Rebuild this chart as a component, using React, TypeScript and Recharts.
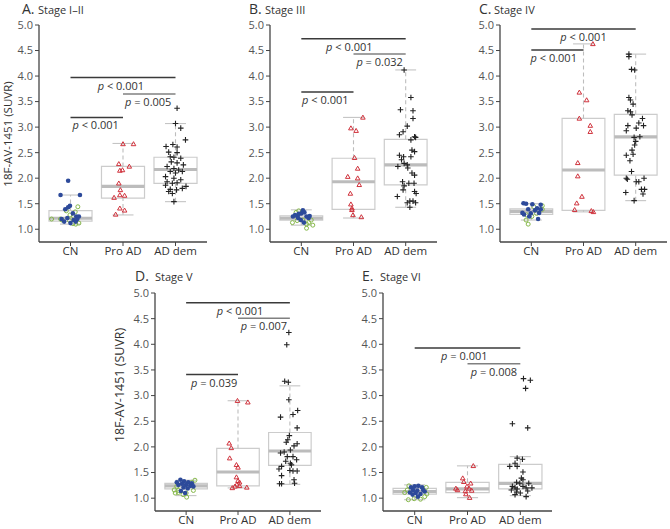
import React from 'react';
import { ComposedChart, XAxis, YAxis, Scatter, ReferenceArea, ReferenceLine } from 'recharts';

const categories = ['CN', 'Pro AD', 'AD dem'];
const yTicks = [1.0, 1.5, 2.0, 2.5, 3.0, 3.5, 4.0, 4.5, 5.0];
const yLabel = '18F-AV-1451 (SUVR)';

// box stats per category: [whiskerLow, q1, median, q3, whiskerHigh]
const A_boxes = [[1.10, 1.16, 1.215, 1.365, 1.67], [1.28, 1.61, 1.84, 2.23, 2.68], [1.54, 1.90, 2.17, 2.41, 3.07]];
const B_boxes = [[1.08, 1.18, 1.215, 1.26, 1.38], [1.22, 1.39, 1.93, 2.39, 3.19], [1.43, 1.87, 2.26, 2.76, 4.12]];
const C_boxes = [[1.18, 1.29, 1.35, 1.40, 1.50], [1.34, 1.37, 2.16, 3.17, 4.63], [1.56, 2.06, 2.81, 3.25, 4.43]];
const D_boxes = [[1.05, 1.18, 1.24, 1.29, 1.35], [1.20, 1.24, 1.51, 1.97, 2.90], [1.27, 1.64, 1.92, 2.28, 3.19]];
const E_boxes = [[0.97, 1.08, 1.13, 1.19, 1.26], [1.01, 1.11, 1.18, 1.31, 1.63], [1.05, 1.18, 1.29, 1.66, 1.81]];

const A_cnFilled = [[0.955,1.95],[0.81,1.67],[1.18,1.67],[0.99,1.46],[0.955,1.43],[0.9,1.39],[1.045,1.31],[1.11,1.25],[1.16,1.25],[0.94,1.22],[1.06,1.18],[0.88,1.15],[1.1,1.15],[1.0,1.12],[0.83,1.2],[1.13,1.2]];
const A_cnHollow = [[1.14,1.44],[0.92,1.36],[1.09,1.34],[0.99,1.28],[1.06,1.25],[0.81,1.2],[0.64,1.2],[0.84,1.18],[0.98,1.17],[1.045,1.11],[1.16,1.12],[1.1,1.1]];
const A_pro = [[2.0,2.67],[2.2,2.67],[1.92,2.28],[2.12,2.23],[1.94,2.15],[1.99,2.16],[1.92,1.9],[1.95,1.77],[1.94,1.67],[2.03,1.66],[1.83,1.62],[1.94,1.41],[2.03,1.37],[1.86,1.29]];
const A_dem = [[3.03,3.37],[3.0,3.07],[3.1,2.98],[3.19,2.75],[2.82,2.62],[2.95,2.66],[3.03,2.61],[2.87,2.51],[3.03,2.5],[2.9,2.42],[2.97,2.41],[3.1,2.39],[2.92,2.32],[3.03,2.3],[3.15,2.26],[2.84,2.23],[2.97,2.19],[3.06,2.16],[2.9,2.13],[3.0,2.1],[3.13,2.13],[2.81,2.03],[2.97,2.0],[3.1,1.97],[2.84,1.93],[2.94,1.9],[3.03,1.91],[3.2,1.84],[2.81,1.86],[2.9,1.78],[3.02,1.77],[3.13,1.8],[2.94,1.7],[2.97,1.54],[2.87,1.74]];

const B_cnFilled = [[0.84,1.25],[0.92,1.26],[1.0,1.31],[1.06,1.33],[1.03,1.37],[0.94,1.22],[1.1,1.25],[1.14,1.22],[0.99,1.18],[1.05,1.13],[0.88,1.28],[0.95,1.3],[1.16,1.26]];
const B_cnHollow = [[0.9,1.33],[0.95,1.36],[1.19,1.18],[1.14,1.13],[1.1,1.1],[1.22,1.08],[0.92,1.17],[0.83,1.13],[1.1,1.02],[1.03,1.18]];
const B_pro = [[2.18,3.19],[1.95,2.98],[2.05,2.93],[2.02,2.4],[2.08,2.19],[1.89,2.03],[2.08,2.0],[2.11,1.87],[1.94,1.7],[1.95,1.49],[1.97,1.41],[1.97,1.38],[1.99,1.28],[2.15,1.24]];
const B_dem = [[2.97,4.12],[3.1,3.58],[2.9,3.34],[3.14,3.32],[3.14,3.17],[3.03,3.02],[2.95,2.91],[2.88,2.85],[3.17,2.81],[3.1,2.75],[3.19,2.8],[3.12,2.55],[3.17,2.52],[2.88,2.45],[2.96,2.42],[3.1,2.42],[2.92,2.36],[2.97,2.29],[3.03,2.26],[2.85,2.23],[3.12,2.1],[3.17,2.06],[3.04,2.2],[2.94,1.93],[3.06,1.9],[2.97,1.85],[3.16,1.9],[2.95,1.77],[3.17,1.74],[3.2,1.7],[2.84,1.64],[3.08,1.55],[3.14,1.55],[3.19,1.52],[3.08,1.43],[3.03,1.52]];

const C_cnFilled = [[0.85,1.51],[0.9,1.5],[1.02,1.49],[1.11,1.41],[1.18,1.48],[0.94,1.39],[1.07,1.37],[0.86,1.29],[0.83,1.32],[0.96,1.25],[1.13,1.2],[1.15,1.32],[1.18,1.39],[0.99,1.31]];
const C_cnHollow = [[1.21,1.46],[1.05,1.44],[0.91,1.28],[1.01,1.25],[0.9,1.18],[0.94,1.1],[1.21,1.39],[1.1,1.31]];
const C_pro = [[2.18,4.63],[1.92,3.68],[2.06,3.53],[1.92,3.17],[2.13,3.03],[2.13,2.91],[1.89,2.3],[1.89,2.04],[1.97,1.64],[1.87,1.51],[1.83,1.38],[2.15,1.36],[2.19,1.34]];
const C_dem = [[2.87,4.43],[2.87,4.38],[2.92,4.13],[2.98,4.12],[2.87,3.58],[2.9,3.53],[2.95,3.45],[2.85,3.32],[2.9,3.3],[2.93,3.24],[3.13,3.17],[3.06,3.08],[3.15,3.03],[2.85,3.03],[2.82,2.93],[3.01,2.98],[3.08,2.81],[2.97,2.8],[3.0,2.72],[2.98,2.65],[2.93,2.55],[2.95,2.47],[2.82,2.45],[2.89,2.34],[2.92,2.13],[2.82,2.0],[2.84,1.98],[3.01,1.93],[3.06,1.93],[3.16,2.0],[3.11,1.78],[3.17,1.78],[3.14,1.69],[2.81,1.72],[2.97,1.56]];

const D_cnFilled = [[0.89,1.36],[0.96,1.33],[1.04,1.31],[1.11,1.29],[0.92,1.28],[1.0,1.26],[1.08,1.24],[1.14,1.23],[0.85,1.26],[0.95,1.21],[1.03,1.19],[0.9,1.14],[0.98,1.1],[0.82,1.31]];
const D_cnHollow = [[1.17,1.35],[1.11,1.31],[0.82,1.23],[0.77,1.16],[0.85,1.15],[1.14,1.15],[0.94,1.07],[1.0,1.1],[0.79,1.1],[1.01,1.02],[0.85,1.11]];
const D_pro = [[1.99,2.9],[2.19,2.87],[1.83,2.07],[1.87,1.98],[1.84,1.78],[1.97,1.65],[2.0,1.6],[1.97,1.41],[2.0,1.34],[2.03,1.31],[1.98,1.27],[1.94,1.23],[2.03,1.24],[1.89,1.2],[2.17,1.21]];
const D_dem = [[2.98,4.23],[2.94,3.99],[2.9,3.28],[2.97,3.26],[2.98,2.92],[3.15,2.71],[2.82,2.58],[3.06,2.63],[3.14,2.37],[2.99,2.22],[2.96,2.14],[2.93,2.09],[3.14,2.06],[3.08,2.02],[2.89,1.9],[2.82,1.88],[3.01,1.94],[3.06,1.81],[2.95,1.81],[2.92,1.72],[3.13,1.75],[3.01,1.68],[2.79,1.57],[2.84,1.62],[3.0,1.54],[3.06,1.53],[3.14,1.53],[2.84,1.44],[3.08,1.36],[2.8,1.28],[2.84,1.28],[3.09,1.29],[3.03,1.65]];

const E_cnFilled = [[0.93,1.21],[1.0,1.23],[1.07,1.24],[1.14,1.21],[0.97,1.16],[1.05,1.15],[1.19,1.13],[0.91,1.11],[1.02,1.1],[1.11,1.08],[0.96,1.07],[1.06,1.03],[1.16,1.16]];
const E_cnHollow = [[0.89,1.24],[1.22,1.21],[0.86,1.16],[0.81,1.11],[1.23,1.08],[0.88,0.97],[1.11,0.98],[1.19,1.03],[0.99,0.99]];
const E_pro = [[2.11,1.63],[1.91,1.39],[1.93,1.32],[2.06,1.29],[1.78,1.19],[1.81,1.16],[1.99,1.23],[2.03,1.19],[1.96,1.14],[2.08,1.15],[1.97,1.08],[2.04,1.01]];
const E_dem = [[3.06,3.33],[3.19,3.3],[3.1,3.14],[2.85,2.45],[3.14,2.37],[3.04,1.76],[2.94,1.78],[2.8,1.62],[2.9,1.68],[2.94,1.62],[3.05,1.51],[3.02,1.39],[3.05,1.36],[2.93,1.31],[2.99,1.29],[3.16,1.29],[2.85,1.23],[2.9,1.2],[2.94,1.18],[3.05,1.23],[3.11,1.2],[3.14,1.14],[2.93,1.12],[3.0,1.1],[2.9,1.07],[3.11,1.03],[2.83,1.16],[3.22,1.2]];

// p-value brackets: from group, to group, height (SUVR), text, text centre (category units)
const A_pvals = [{ from: 1, to: 3, at: 3.97, text: '< 0.001', tx: 1.96 }, { from: 2, to: 3, at: 3.65, text: '= 0.005', tx: 2.48 }, { from: 1, to: 2, at: 3.19, text: '< 0.001', tx: 1.48 }];
const B_pvals = [{ from: 1, to: 3, at: 4.73, text: '< 0.001', tx: 1.92 }, { from: 2, to: 3, at: 4.43, text: '= 0.032', tx: 2.5 }, { from: 1, to: 2, at: 3.69, text: '< 0.001', tx: 1.46 }];
const C_pvals = [{ from: 1, to: 3, at: 4.92, text: '< 0.001', tx: 2.0 }, { from: 1, to: 2, at: 4.51, text: '< 0.001', tx: 1.43 }];
const D_pvals = [{ from: 1, to: 3, at: 4.81, text: '< 0.001', tx: 2.04 }, { from: 2, to: 3, at: 4.51, text: '= 0.007', tx: 2.5 }, { from: 1, to: 2, at: 3.41, text: '= 0.039', tx: 1.54 }];
const E_pvals = [{ from: 1, to: 3, at: 3.93, text: '= 0.001', tx: 1.94 }, { from: 2, to: 3, at: 3.62, text: '= 0.008', tx: 2.5 }];

const FONT = '"Open Sans", "Noto Sans", sans-serif';
const BLUE = '#2d4a9a';
const GREEN = '#86b84a';
const RED = '#d0323c';
const BLACK = '#222';

const toPts = (arr) => arr.map(([x, y]) => ({ x, y }));

const FilledDot = (p) => <circle cx={p.cx} cy={p.cy} r={2.3} fill={BLUE} />;
const HollowDot = (p) => <circle cx={p.cx} cy={p.cy} r={2.0} fill="none" stroke={GREEN} strokeWidth={1} />;
const Tri = (p) => {
  const s = 2.3;
  return <path d={`M${p.cx},${p.cy - s} L${p.cx + s},${p.cy + s * 0.75} L${p.cx - s},${p.cy + s * 0.75} Z`} fill="none" stroke={RED} strokeWidth={1} />;
};
const Plus = (p) => (
  <path d={`M${p.cx - 2.8},${p.cy} h5.6 M${p.cx},${p.cy - 2.8} v5.6`} stroke={BLACK} strokeWidth={1.1} />
);
const PText = (p) => {
  const t = (p.payload && p.payload.text) || p.text;
  return (
    <text x={p.cx} y={p.cy + 12} textAnchor="middle" fontSize={11} fill="#333" fontFamily={FONT}>
      <tspan fontStyle="italic">p</tspan> {t}
    </text>
  );
};

const geoms = {
  A: { left: 39, top: 25, w: 168, h: 217 },
  B: { left: 270, top: 25, w: 167, h: 217 },
  C: { left: 500, top: 25, w: 167, h: 217 },
  D: { left: 155, top: 293, w: 166, h: 218 },
  E: { left: 383, top: 293, w: 169, h: 218 },
};

const YW = 36;
const MT = 8;
const MR = 3;
const XH = 30;

function Panel({ g, boxes, cnFilled, cnHollow, pro, dem, pvals }) {
  const width = YW + g.w + MR;
  const height = MT + g.h + XH;
  const hw = 0.41;
  const cw = 0.2;
  return (
    <div style={{ position: 'absolute', left: g.left - YW, top: g.top - MT }}>
      <ComposedChart width={width} height={height} margin={{ top: MT, right: MR, bottom: 0, left: 0 }}>
        <XAxis
          type="number"
          dataKey="x"
          domain={[0.4, 3.6]}
          ticks={[1, 2, 3]}
          interval={0}
          allowDataOverflow
          tickFormatter={(v) => categories[Math.round(v) - 1]}
          height={XH}
          tickSize={4}
          tickMargin={1}
          axisLine={{ stroke: '#444', strokeWidth: 1.3 }}
          tickLine={{ stroke: '#444' }}
          tick={{ fontSize: 11.5, fill: '#333', fontFamily: FONT }}
        />
        <YAxis
          type="number"
          dataKey="y"
          domain={[0.75, 5]}
          ticks={yTicks}
          interval={0}
          allowDataOverflow
          tickFormatter={(v) => v.toFixed(1)}
          width={YW}
          tickSize={4}
          tickMargin={2}
          axisLine={{ stroke: '#444', strokeWidth: 1.3 }}
          tickLine={{ stroke: '#444' }}
          tick={{ fontSize: 11, fill: '#555', fontFamily: FONT }}
        />
        {boxes.map((b, i) => {
          const c = i + 1;
          const [lo, q1, med, q3, hi] = b;
          return [
            <ReferenceLine key={`wu${i}`} segment={[{ x: c, y: q3 }, { x: c, y: hi }]} stroke="#bdbdbd" strokeWidth={1.1} strokeDasharray="4 3" ifOverflow="visible" />,
            <ReferenceLine key={`wl${i}`} segment={[{ x: c, y: lo }, { x: c, y: q1 }]} stroke="#bdbdbd" strokeWidth={1.1} strokeDasharray="4 3" ifOverflow="visible" />,
            <ReferenceLine key={`cu${i}`} segment={[{ x: c - cw, y: hi }, { x: c + cw, y: hi }]} stroke="#c4c4c4" strokeWidth={1.1} ifOverflow="visible" />,
            <ReferenceLine key={`cl${i}`} segment={[{ x: c - cw, y: lo }, { x: c + cw, y: lo }]} stroke="#c4c4c4" strokeWidth={1.1} ifOverflow="visible" />,
            <ReferenceArea key={`b${i}`} x1={c - hw} x2={c + hw} y1={q1} y2={q3} fill="#fff" fillOpacity={1} stroke="#cccccc" strokeWidth={1.2} ifOverflow="visible" />,
            <ReferenceLine key={`m${i}`} segment={[{ x: c - hw, y: med }, { x: c + hw, y: med }]} stroke="#bcbcbc" strokeWidth={3.2} ifOverflow="visible" />,
          ];
        })}
        {pvals.map((p, i) => (
          <ReferenceLine
            key={`p${i}`}
            segment={[{ x: p.from, y: p.at }, { x: p.to, y: p.at }]}
            stroke={p.from === 2 ? '#808080' : '#3a3a3a'}
            strokeWidth={1.5}
            ifOverflow="visible"
          />
        ))}
        <Scatter data={pvals.map((p) => ({ x: p.tx, y: p.at, text: p.text }))} dataKey="y" shape={PText} isAnimationActive={false} />
        <Scatter data={toPts(cnHollow)} dataKey="y" shape={HollowDot} isAnimationActive={false} />
        <Scatter data={toPts(cnFilled)} dataKey="y" shape={FilledDot} isAnimationActive={false} />
        <Scatter data={toPts(pro)} dataKey="y" shape={Tri} isAnimationActive={false} />
        <Scatter data={toPts(dem)} dataKey="y" shape={Plus} isAnimationActive={false} />
      </ComposedChart>
    </div>
  );
}

function Title({ x, sx, y, letter, stage }) {
  return (
    <g>
      <text x={x} y={y} fill="#333" fontFamily={FONT} fontSize={14}>{letter}</text>
      <text x={sx} y={y} fill="#333" fontFamily={FONT} fontSize={11}>{stage}</text>
    </g>
  );
}

export default function App() {
  return (
    <div style={{ position: 'absolute', left: 0, top: 0, width: 670, height: 529, background: '#fff', fontFamily: FONT }}>
      <Panel g={geoms.A} boxes={A_boxes} cnFilled={A_cnFilled} cnHollow={A_cnHollow} pro={A_pro} dem={A_dem} pvals={A_pvals} />
      <Panel g={geoms.B} boxes={B_boxes} cnFilled={B_cnFilled} cnHollow={B_cnHollow} pro={B_pro} dem={B_dem} pvals={B_pvals} />
      <Panel g={geoms.C} boxes={C_boxes} cnFilled={C_cnFilled} cnHollow={C_cnHollow} pro={C_pro} dem={C_dem} pvals={C_pvals} />
      <Panel g={geoms.D} boxes={D_boxes} cnFilled={D_cnFilled} cnHollow={D_cnHollow} pro={D_pro} dem={D_dem} pvals={D_pvals} />
      <Panel g={geoms.E} boxes={E_boxes} cnFilled={E_cnFilled} cnHollow={E_cnHollow} pro={E_pro} dem={E_dem} pvals={E_pvals} />
      <svg width={670} height={529} style={{ position: 'absolute', left: 0, top: 0, pointerEvents: 'none' }}>
        <Title x={22} sx={38} y={14} letter="A." stage="Stage I–II" />
        <Title x={249} sx={265} y={14} letter="B." stage="Stage III" />
        <Title x={479} sx={494} y={14} letter="C." stage="Stage IV" />
        <Title x={135} sx={155} y={281} letter="D." stage="Stage V" />
        <Title x={362} sx={380} y={281} letter="E." stage="Stage VI" />
        <text x={7} y={134} transform="rotate(-90 7 134)" textAnchor="middle" dominantBaseline="central" fontSize={11.5} fill="#333" fontFamily={FONT}>{yLabel}</text>
        <text x={119} y={385} transform="rotate(-90 119 385)" textAnchor="middle" dominantBaseline="central" fontSize={12.5} fill="#333" fontFamily={FONT}>{yLabel}</text>
      </svg>
    </div>
  );
}
